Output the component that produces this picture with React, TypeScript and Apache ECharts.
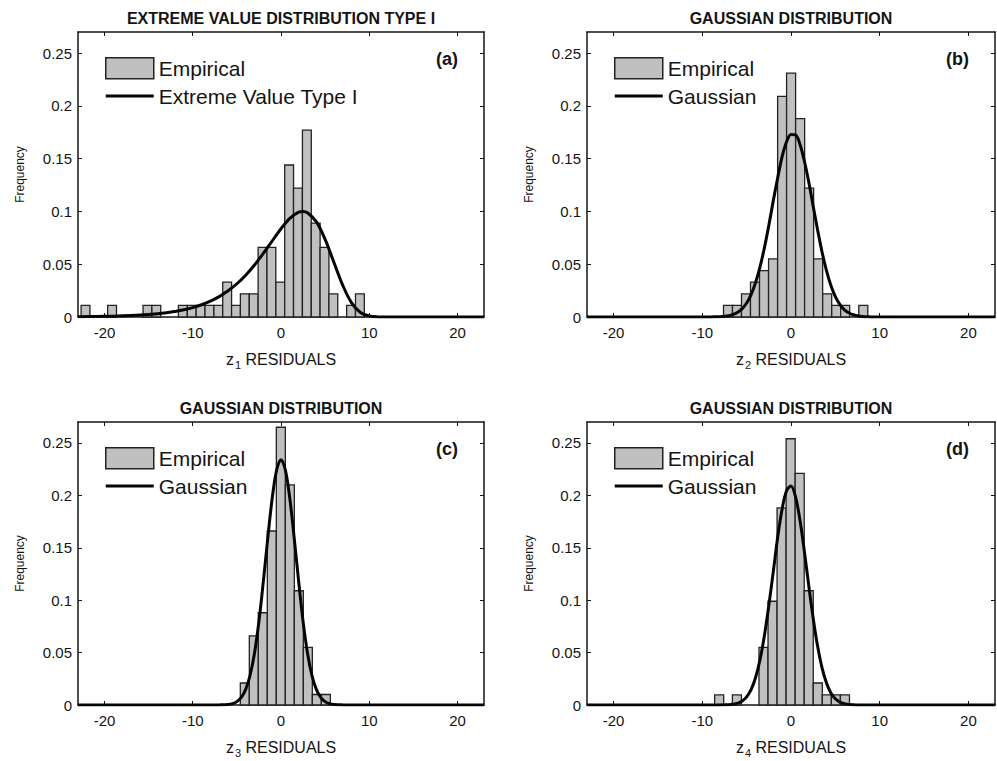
import React, { useEffect, useRef } from 'react';
import * as echarts from 'echarts';

// ---------- data ----------
const xTicks = [-20, -10, 0, 10, 20];
const yTicks = [0, 0.05, 0.1, 0.15, 0.2, 0.25];
const xMin = -23;
const xMax = 23;
const yMin = 0;
const yMax = 0.27;

const panelTitles = [
  'EXTREME VALUE DISTRIBUTION TYPE I',
  'GAUSSIAN DISTRIBUTION',
  'GAUSSIAN DISTRIBUTION',
  'GAUSSIAN DISTRIBUTION',
];
const panelLetters = ['(a)', '(b)', '(c)', '(d)'];
const fitNames = ['Extreme Value Type I', 'Gaussian', 'Gaussian', 'Gaussian'];
const residualSubscripts = ['1', '2', '3', '4'];
const binWidths = [1.003, 1.018, 1.02, 1.02];

// panel (a) histogram
const aBinCenters = [-22.15, -19.14, -15.13, -14.13, -11.12, -10.11, -9.11, -8.11, -7.1, -6.1, -5.1, -4.1, -3.09, -2.09, -1.09, -0.08, 0.92, 1.92, 2.93, 3.93, 4.93, 5.93, 7.94, 8.94];
const aFreq = [0.011, 0.011, 0.011, 0.011, 0.011, 0.011, 0.011, 0.011, 0.011, 0.033, 0.011, 0.022, 0.022, 0.066, 0.066, 0.033, 0.144, 0.122, 0.177, 0.089, 0.066, 0.022, 0.011, 0.022];
// panel (a) fitted curve
const aCurveX = [-23, -21, -19, -17, -15, -13, -12, -11, -10, -9, -8, -7, -6, -5, -4, -3, -2, -1, 0, 1, 2, 2.5, 3, 4, 5, 6, 7, 8, 9, 10, 11, 12, 14, 18, 23];
const aCurveY = [0.0003, 0.0005, 0.0008, 0.0014, 0.0024, 0.004, 0.0053, 0.0069, 0.0089, 0.0116, 0.015, 0.0193, 0.0248, 0.0315, 0.0396, 0.0493, 0.0602, 0.072, 0.0836, 0.0935, 0.0994, 0.1, 0.0988, 0.0903, 0.0735, 0.0517, 0.03, 0.0134, 0.0043, 0.0009, 0.0001, 0, 0, 0, 0];

// panel (b)
const bBinCenters = [-7.1, -6.09, -5.07, -4.06, -3.04, -2.02, -1.0, 0.01, 1.03, 2.04, 3.06, 4.08, 5.1, 6.11, 8.15];
const bFreq = [0.011, 0.011, 0.022, 0.033, 0.044, 0.055, 0.209, 0.231, 0.188, 0.122, 0.055, 0.022, 0.011, 0.011, 0.011];
const bCurveX = [-23, -15, -10, -9, -8, -7, -6.5, -6, -5.5, -5, -4.5, -4, -3.5, -3, -2.5, -2, -1.5, -1, -0.5, 0, 0.5, 1, 1.5, 2, 2.5, 3, 3.5, 4, 4.5, 5, 5.5, 6, 6.5, 7, 8, 9, 10, 15, 23];
const bCurveY = [0, 0, 0, 0.0001, 0.0003, 0.0012, 0.0024, 0.0045, 0.0079, 0.0132, 0.0212, 0.0324, 0.0472, 0.0655, 0.0868, 0.11, 0.132, 0.152, 0.166, 0.173, 0.1725, 0.164, 0.148, 0.128, 0.105, 0.0825, 0.0616, 0.0439, 0.0298, 0.0194, 0.012, 0.007, 0.004, 0.0021, 0.0005, 0.0001, 0, 0, 0];

// panel (c)
const cBinCenters = [-4.1, -3.08, -2.06, -1.04, -0.02, 1.0, 2.02, 3.04, 4.06, 5.08];
const cFreq = [0.021, 0.066, 0.088, 0.166, 0.265, 0.21, 0.109, 0.055, 0.01, 0.01];
const cCurveX = [-23, -15, -10, -8, -7, -6, -5.5, -5, -4.5, -4, -3.5, -3, -2.5, -2, -1.5, -1, -0.5, 0, 0.5, 1, 1.5, 2, 2.5, 3, 3.5, 4, 4.5, 5, 5.5, 6, 7, 8, 10, 15, 23];
const cCurveY = [0, 0, 0, 0, 0.0001, 0.0005, 0.0013, 0.0032, 0.0072, 0.0149, 0.0284, 0.0497, 0.0798, 0.118, 0.159, 0.197, 0.224, 0.234, 0.224, 0.197, 0.159, 0.118, 0.0798, 0.0497, 0.0284, 0.0149, 0.0072, 0.0032, 0.0013, 0.0005, 0.0001, 0, 0, 0, 0];

// panel (d)
const dBinCenters = [-8.1, -6.1, -3.1, -2.08, -1.06, -0.04, 0.98, 2.0, 3.02, 4.04, 5.06, 6.08];
const dFreq = [0.0096, 0.0096, 0.055, 0.099, 0.188, 0.254, 0.221, 0.109, 0.021, 0.0096, 0.0096, 0.0096];
const dCurveX = [-23, -15, -10, -9, -8, -7, -6, -5.5, -5, -4.5, -4, -3.5, -3, -2.5, -2, -1.5, -1, -0.5, 0, 0.5, 1, 1.5, 2, 2.5, 3, 3.5, 4, 4.5, 5, 5.5, 6, 7, 8, 10, 15, 23];
const dCurveY = [0, 0, 0, 0, 0.0001, 0.0003, 0.0018, 0.0039, 0.0078, 0.0147, 0.026, 0.0429, 0.066, 0.095, 0.127, 0.16, 0.187, 0.2044, 0.209, 0.199, 0.177, 0.147, 0.114, 0.0828, 0.056, 0.0354, 0.021, 0.0115, 0.0059, 0.0028, 0.0013, 0.0002, 0, 0, 0, 0];

const binCenters = [aBinCenters, bBinCenters, cBinCenters, dBinCenters];
const binFreqs = [aFreq, bFreq, cFreq, dFreq];
const curveXs = [aCurveX, bCurveX, cCurveX, dCurveX];
const curveYs = [aCurveY, bCurveY, cCurveY, dCurveY];

// ---------- layout / style ----------
const FONT = '"Liberation Sans", Arial, Helvetica, sans-serif';
const INK = '#141414';
const grids = [
  { left: 78, top: 32, width: 406, height: 285 },
  { left: 587, top: 32, width: 408, height: 285 },
  { left: 78, top: 422, width: 406, height: 283 },
  { left: 587, top: 422, width: 408, height: 283 },
];

function buildOption() {
  const xAxis: any[] = [];
  const yAxis: any[] = [];
  const series: any[] = [];
  const legend: any[] = [];
  const graphic: any[] = [];

  const axisLine = { show: true, onZero: false, lineStyle: { color: INK, width: 1.5 } };
  const tickStyle = { color: INK, width: 1 };

  grids.forEach((g, i) => {
    const w = binWidths[i];
    // bottom x axis
    xAxis.push({
      gridIndex: i,
      type: 'value',
      min: xMin,
      max: xMax,
      position: 'bottom',
      axisLine,
      axisTick: { show: true, inside: true, length: 4, customValues: xTicks, lineStyle: tickStyle },
      axisLabel: { show: true, customValues: xTicks, margin: 8, fontSize: 15, color: INK, fontFamily: FONT },
      splitLine: { show: false },
      name: `{m|z}{s|${residualSubscripts[i]}}{m| RESIDUALS}`,
      nameLocation: 'middle',
      nameGap: 31,
      nameTextStyle: {
        fontFamily: FONT,
        color: INK,
        rich: {
          m: { fontSize: 16, fontFamily: FONT, color: INK, lineHeight: 22, verticalAlign: 'middle' },
          s: { fontSize: 11, fontFamily: FONT, color: INK, lineHeight: 22, verticalAlign: 'bottom', padding: [0, 0, 0, 1] },
        },
      },
    });
    // top x axis (box + title)
    xAxis.push({
      gridIndex: i,
      type: 'value',
      min: xMin,
      max: xMax,
      position: 'top',
      axisLine,
      axisTick: { show: true, inside: true, length: 4, customValues: xTicks, lineStyle: tickStyle },
      axisLabel: { show: false },
      splitLine: { show: false },
      name: panelTitles[i],
      nameLocation: 'middle',
      nameGap: 6,
      nameTextStyle: { fontSize: 16, fontWeight: 'bold', color: INK, fontFamily: FONT },
    });
    // left y axis
    yAxis.push({
      gridIndex: i,
      type: 'value',
      min: yMin,
      max: yMax,
      position: 'left',
      axisLine,
      axisTick: { show: true, inside: true, length: 4, customValues: yTicks, lineStyle: tickStyle },
      axisLabel: { show: true, customValues: yTicks, margin: 6, fontSize: 15, color: INK, fontFamily: FONT },
      splitLine: { show: false },
      name: 'Frequency',
      nameLocation: 'middle',
      nameGap: 52,
      nameRotate: 90,
      nameTextStyle: { fontSize: 12, color: INK, fontFamily: FONT },
    });
    // right y axis (box)
    yAxis.push({
      gridIndex: i,
      type: 'value',
      min: yMin,
      max: yMax,
      position: 'right',
      axisLine,
      axisTick: { show: true, inside: true, length: 4, customValues: yTicks, lineStyle: tickStyle },
      axisLabel: { show: false },
      splitLine: { show: false },
    });

    const hist = binCenters[i].map((c, k) => [c, binFreqs[i][k]]);
    series.push({
      type: 'custom',
      name: 'Empirical',
      xAxisIndex: 2 * i,
      yAxisIndex: 2 * i,
      data: hist,
      encode: { x: 0, y: 1 },
      z: 2,
      renderItem: (params: any, api: any) => {
        const c = api.value(0);
        const v = api.value(1);
        const p0 = api.coord([c - w / 2, v]);
        const p1 = api.coord([c + w / 2, 0]);
        return {
          type: 'rect',
          shape: { x: p0[0], y: p0[1], width: p1[0] - p0[0], height: p1[1] - p0[1] },
          style: { fill: '#c0c0c0', stroke: '#222222', lineWidth: 1.3 },
        };
      },
    });
    series.push({
      type: 'line',
      name: fitNames[i],
      xAxisIndex: 2 * i,
      yAxisIndex: 2 * i,
      data: curveXs[i].map((x, k) => [x, curveYs[i][k]]),
      symbol: 'none',
      smooth: 0.35,
      lineStyle: { color: '#050505', width: 3 },
      z: 3,
    });

    legend.push({
      orient: 'vertical',
      left: g.left + 27,
      top: g.top + 25,
      padding: 0,
      itemWidth: 48,
      itemHeight: 21,
      itemGap: 6,
      selectedMode: false,
      textStyle: { fontSize: 21, color: INK, fontFamily: FONT },
      data: [
        { name: 'Empirical', icon: 'rect', itemStyle: { color: '#c0c0c0', borderColor: '#222222', borderWidth: 1.5 } },
        { name: fitNames[i], icon: 'path://M0,0H48V3.2H0Z', itemStyle: { color: '#050505', borderWidth: 0 } },
      ],
    });

    graphic.push({
      type: 'text',
      x: g.left + g.width - 26,
      y: g.top + 27,
      style: {
        text: panelLetters[i],
        fontSize: 18,
        fontWeight: 'bold',
        fontFamily: FONT,
        fill: INK,
        align: 'right',
        verticalAlign: 'middle',
      },
    });
  });

  return {
    animation: false,
    backgroundColor: '#ffffff',
    grid: grids.map((g) => ({ ...g, containLabel: false, outerBoundsMode: 'none' })),
    xAxis,
    yAxis,
    series,
    legend,
    graphic,
  };
}

export default function App() {
  const ref = useRef<HTMLDivElement>(null);
  useEffect(() => {
    if (!ref.current) return;
    const chart = echarts.init(ref.current, undefined, { renderer: 'svg' });
    chart.setOption(buildOption() as any);
    return () => chart.dispose();
  }, []);
  return (
    <div
      ref={ref}
      style={{ position: 'fixed', left: 0, top: 0, width: 997, height: 761, background: '#fff' }}
    />
  );
}
